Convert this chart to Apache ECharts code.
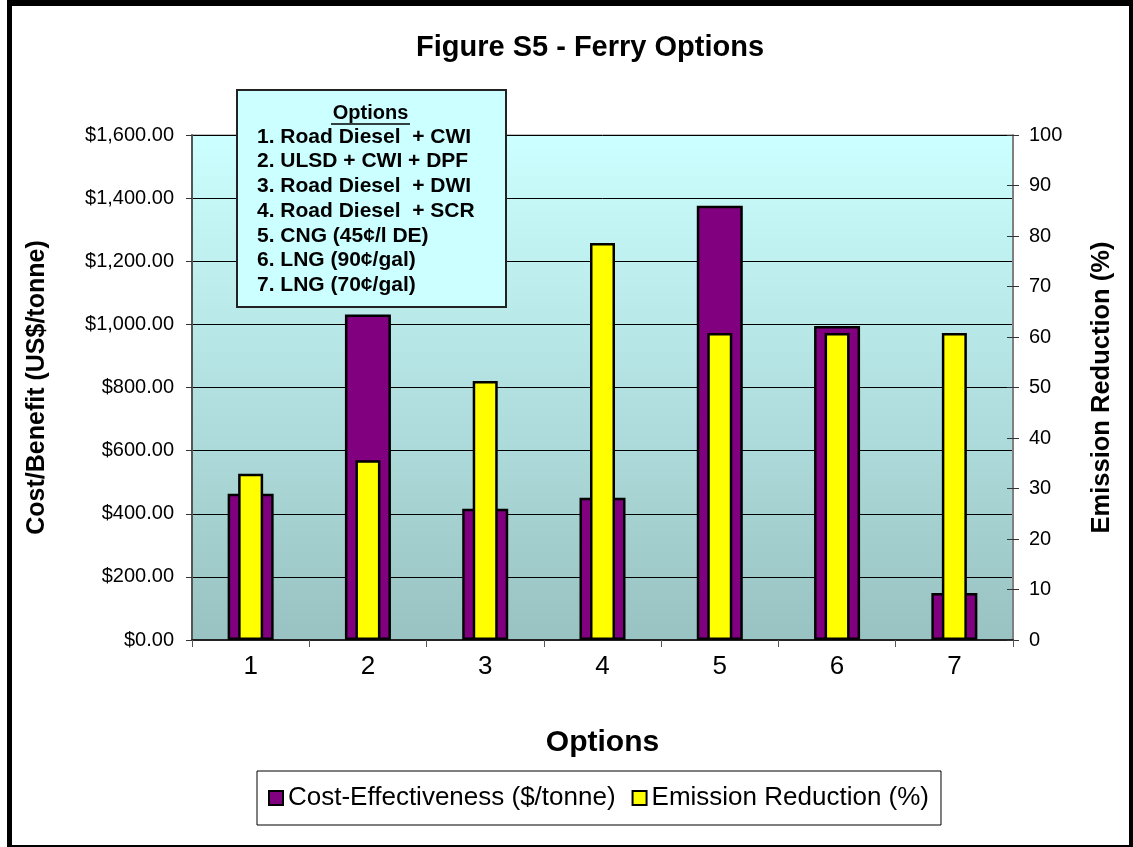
<!DOCTYPE html>
<html>
<head>
<meta charset="utf-8">
<script src="https://cdn.jsdelivr.net/npm/echarts@6/dist/echarts.min.js"></script>
<style>
html,body{margin:0;padding:0;background:#fff;}
#chart{width:1133px;height:847px;}
</style>
</head>
<body>
<div id="chart"></div>
<script>
const categories = ['1', '2', '3', '4', '5', '6', '7'];
const costEffectiveness = [463, 1031, 416, 451, 1376, 995, 149];
const emissionReduction = [32.9, 35.6, 51.3, 78.6, 60.8, 60.8, 60.8];
const optionsTitle = 'Options';
const optionLines = [
  '1. Road Diesel  + CWI',
  '2. ULSD + CWI + DPF',
  '3. Road Diesel  + DWI',
  '4. Road Diesel  + SCR',
  '5. CNG (45\u00A2/l DE)',
  '6. LNG (90\u00A2/gal)',
  '7. LNG (70\u00A2/gal)'
];

const FONT = "'Liberation Sans', Arial, sans-serif";
const chart = echarts.init(document.getElementById('chart'), null, {renderer: 'canvas'});

const boxGraphics = [
  {type: 'rect', left: 236, top: 89, shape: {width: 269, height: 217},
   style: {fill: '#CCFFFF', stroke: '#222', lineWidth: 2}, z: 100},
  {type: 'text', x: 370.5, y: 113, style: {text: optionsTitle, fill: '#000',
   font: "bold 20px " + FONT, textAlign: 'center', textVerticalAlign: 'middle'}, z: 101},
  {type: 'line', shape: {x1: 331, y1: 124, x2: 410, y2: 124},
   style: {stroke: '#000', lineWidth: 1.5}, z: 101},
  {type: 'text', x: 590, y: 48, style: {text: 'Figure S5 - Ferry Options', fill: '#000',
   font: "bold 29px " + FONT, textAlign: 'center', textVerticalAlign: 'middle'}, z: 101}
];
optionLines.forEach(function (t, i) {
  boxGraphics.push({type: 'text', x: 257, y: 137 + i * 24.7,
    style: {text: t, fill: '#000', font: "bold 21px " + FONT,
      textAlign: 'left', textVerticalAlign: 'middle'}, z: 101});
});
// outer frame
boxGraphics.push(
  {type: 'rect', shape: {x: 7, y: 0, width: 5, height: 847}, style: {fill: '#000'}, z: 50},
  {type: 'rect', shape: {x: 7, y: 0, width: 1126, height: 6}, style: {fill: '#000'}, z: 50},
  {type: 'rect', shape: {x: 1129, y: 0, width: 4, height: 847}, style: {fill: '#000'}, z: 50},
  {type: 'rect', shape: {x: 7, y: 845, width: 1126, height: 2}, style: {fill: '#000'}, z: 50}
);

const option = {
  backgroundColor: '#ffffff',
  animation: false,
  legend: {
    data: ['Cost-Effectiveness ($/tonne)', 'Emission Reduction (%)'],
    left: 257, top: 771,
    padding: [14, 12, 14, 11],
    itemGap: 16,
    itemWidth: 14, itemHeight: 14,
    icon: 'rect',
    backgroundColor: '#fff',
    borderColor: '#000', borderWidth: 1,
    textStyle: {fontFamily: FONT, fontSize: 26, color: '#000'}
  },
  grid: {
    left: 192, right: 120, top: 135, bottom: 207,
    show: true,
    borderColor: '#808080', borderWidth: 1,
    backgroundColor: {type: 'linear', x: 0, y: 0, x2: 0, y2: 1,
      colorStops: [{offset: 0, color: '#CCFFFF'}, {offset: 1, color: '#99C2C2'}]}
  },
  xAxis: [{
    type: 'category', data: categories,
    axisLine: {lineStyle: {color: '#222', width: 2}},
    axisTick: {show: true, length: 7, lineStyle: {color: '#555'}},
    axisLabel: {fontFamily: FONT, fontSize: 26, color: '#000', margin: 14},
    name: 'Options', nameLocation: 'middle', nameGap: 88,
    nameTextStyle: {fontFamily: FONT, fontWeight: 'bold', fontSize: 30, color: '#000'}
  }, {
    type: 'category', data: categories, show: false
  }],
  yAxis: [{
    type: 'value', min: 0, max: 1600, interval: 200, position: 'left',
    axisLine: {show: true, lineStyle: {color: '#555', width: 2}},
    axisTick: {show: true, length: 6, lineStyle: {color: '#333'}},
    splitLine: {show: true, lineStyle: {color: '#000', width: 1}},
    axisLabel: {fontFamily: FONT, fontSize: 20, color: '#000', margin: 18,
      formatter: function (v) { return '$' + v.toLocaleString('en-US', {minimumFractionDigits: 2, maximumFractionDigits: 2}); }},
    name: 'Cost/Benefit (US$/tonne)', nameLocation: 'middle', nameGap: 142, nameRotate: 90,
    nameTextStyle: {fontFamily: FONT, fontWeight: 'bold', fontSize: 25, color: '#000'}
  }, {
    type: 'value', min: 0, max: 100, interval: 10, position: 'right',
    axisLine: {show: true, lineStyle: {color: '#808080', width: 2}},
    axisTick: {show: true, length: 6, lineStyle: {color: '#333'}},
    splitLine: {show: false},
    axisLabel: {fontFamily: FONT, fontSize: 20, color: '#000', margin: 16},
    name: 'Emission Reduction (%)', nameLocation: 'middle', nameGap: 76, nameRotate: 90,
    nameTextStyle: {fontFamily: FONT, fontWeight: 'bold', fontSize: 25.5, color: '#000'}
  }, {
    type: 'value', min: 0, max: 100, interval: 10, position: 'right',
    axisLine: {show: false},
    axisTick: {show: true, inside: true, length: 6, lineStyle: {color: '#333'}},
    splitLine: {show: false},
    axisLabel: {show: false}
  }],
  series: [{
    name: 'Cost-Effectiveness ($/tonne)', type: 'bar',
    xAxisIndex: 0, yAxisIndex: 0,
    data: costEffectiveness, barWidth: 46,
    itemStyle: {color: '#800080', borderColor: '#000', borderWidth: 2.5}
  }, {
    name: 'Emission Reduction (%)', type: 'bar',
    xAxisIndex: 1, yAxisIndex: 1,
    data: emissionReduction, barWidth: 25,
    itemStyle: {color: '#FFFF00', borderColor: '#000', borderWidth: 2.5}
  }],
  graphic: boxGraphics
};
chart.setOption(option);
</script>
</body>
</html>
